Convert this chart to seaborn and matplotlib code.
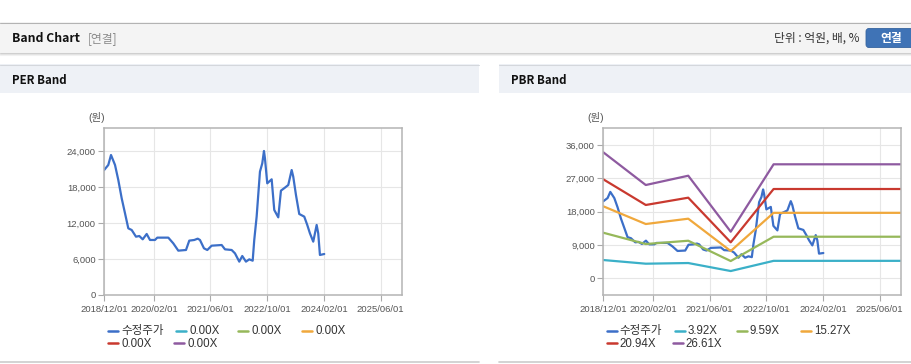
import matplotlib
matplotlib.use("Agg")
import matplotlib.pyplot as plt
import seaborn as sns
import pandas as pd
from matplotlib.patches import Rectangle, FancyBboxPatch
from matplotlib.lines import Line2D
from matplotlib.ticker import FuncFormatter
from matplotlib.transforms import Affine2D

# ---------------- data ----------------
# x = months from the left edge of the axis (first tick "2018/12/01")
tick_months = [0, 12.3, 26.3, 40.3, 54.3, 68.3]
tick_labels = ["2018/12/01", "2020/02/01", "2021/06/01", "2022/10/01", "2024/02/01", "2025/06/01"]
x_max = 73.6

price_month = [0, 1.06, 1.73, 2.72, 3.53, 4.37, 5.19, 6.0, 6.84, 7.9, 8.72, 9.56, 10.54,
               11.36, 12.59, 13.16, 15.88, 17.11, 18.35, 20.25, 21.06, 22.3, 23.14, 23.7,
               24.69, 25.51, 26.59, 29.06, 29.88, 31.53, 32.35, 33.41, 34.15, 35.06, 35.88,
               36.72, 37.11, 37.7, 38.52, 39.09, 39.51, 39.75, 40.32, 41.41, 42.05, 43.04,
               43.7, 44.69, 45.51, 46.35, 46.74, 47.41, 48.22, 49.46, 50.2, 50.86, 51.68,
               52.52, 52.91, 53.33, 54.4]
price_value = [20800, 21670, 23330, 21670, 19170, 16110, 13610, 11110, 10830, 9720, 9830,
               9280, 10170, 9170, 9170, 9560, 9560, 8610, 7390, 7500, 9060, 9170, 9390, 9170,
               7780, 7500, 8220, 8330, 7610, 7500, 6940, 5560, 6500, 5560, 5940, 5720, 9170,
               13060, 20560, 21940, 24000, 22780, 18610, 19280, 14170, 12940, 17390, 17890,
               18330, 20830, 19720, 16670, 13500, 13060, 11670, 10280, 8890, 11670, 10280,
               6670, 6830]

band_month = [0, 10.5, 21.0, 31.5, 42.1, 73.6]
band_392 = [4940, 3950, 4130, 1970, 4720, 4720]
band_959 = [12310, 9260, 10150, 4670, 11230, 11230]
band_1527 = [19440, 14660, 16100, 7370, 17680, 17680]
band_2094 = [26730, 19800, 21770, 9720, 24110, 24110]
band_2661 = [34020, 25190, 27700, 12590, 30780, 30780]

per_labels = ["수정주가", "0.00X", "0.00X", "0.00X", "0.00X", "0.00X"]
pbr_labels = ["수정주가", "3.92X", "9.59X", "15.27X", "20.94X", "26.61X"]

per_yticks = [0, 6000, 12000, 18000, 24000]
pbr_yticks = [0, 9000, 18000, 27000, 36000]

colors = ["#3c6fc8", "#3bb0c8", "#96b85a", "#f0a83c", "#c9392f", "#8e5aa0"]

# ---------------- figure ----------------
sns.set_theme(style="white")
plt.rcParams["font.family"] = ["Liberation Sans", "Noto Sans CJK KR", "DejaVu Sans"]

W, H = 912, 364
fig = plt.figure(figsize=(W / 100, H / 100), dpi=100)
fig.patch.set_facecolor("white")
T = Affine2D().scale(1 / 100, -1 / 100).translate(0, H / 100) + fig.dpi_scale_trans


def rect(x0, y0, x1, y1, color, z=1):
    fig.add_artist(Rectangle((x0, y0), x1 - x0, y1 - y0, transform=T,
                             facecolor=color, edgecolor="none", zorder=z))


def hline(x0, x1, y, color, lw=0.75, z=2):
    fig.add_artist(Line2D([x0, x1], [y, y], transform=T, color=color, lw=lw, zorder=z))


def text(x, y, s, **kw):
    fig.text(x, y, s, transform=T, **kw)


# top header bar
rect(0, 22, W, 52.5, "#f4f4f4")
hline(0, W, 22.5, "#b3b3b3")
hline(0, W, 53, "#cfcfcf")
hline(0, W, 54, "#e3e3e3")
hline(0, W, 55, "#f1f1f1")
text(12, 38.5, "Band Chart", fontsize=8.8, fontweight="bold", family=["Noto Sans CJK KR"],
     color="#111111", va="center", ha="left")
text(88, 38.5, "[연결]", fontsize=8.5, family=["Noto Sans CJK KR"], color="#8a8a8a",
     va="center", ha="left")
text(859, 38.5, "단위 : 억원, 배, %", fontsize=8.5, family=["Noto Sans CJK KR"], color="#333333",
     va="center", ha="right")
fig.add_artist(FancyBboxPatch((866, 28.5), 52, 19, boxstyle="round,pad=0,rounding_size=3",
                              transform=T, facecolor="#3f73b6", edgecolor="#35639f", lw=0.6, zorder=2))
text(891.5, 38.5, "연결", fontsize=8.5, fontweight="bold", family=["Noto Sans CJK KR"],
     color="white", va="center", ha="center", zorder=3)

# panel headers
for x0, x1, title in [(0, 479, "PER Band"), (499, 912, "PBR Band")]:
    rect(x0, 64, x1, 93, "#eef1f6")
    hline(x0, x1, 64.5, "#d4d7dc")
    hline(x0, x1, 362, "#cccccc", lw=1.2)
    text(x0 + 12, 80.5, title, fontsize=8.3, fontweight="bold", family=["Noto Sans CJK KR"],
         color="#111111", va="center", ha="left")

# ---------------- axes ----------------
ax1 = fig.add_axes([104 / W, 1 - 295 / H, 298 / W, 167 / H])
ax2 = fig.add_axes([603.3 / W, 1 - 295 / H, 297.7 / W, 167 / H])

df_price = pd.DataFrame({"month": price_month, "price": price_value})

# PER band chart
sns.lineplot(data=df_price, x="month", y="price", color=colors[0], lw=1.6, ax=ax1)

# PBR band chart
sns.lineplot(data=df_price, x="month", y="price", color=colors[0], lw=1.6, ax=ax2)
band_names = pbr_labels[1:]
band_vals = [band_392, band_959, band_1527, band_2094, band_2661]
df_band = pd.DataFrame({
    "month": band_month * len(band_names),
    "value": sum(band_vals, []),
    "band": [b for b in band_names for _ in band_month],
})
sns.lineplot(data=df_band, x="month", y="value", hue="band",
             palette=dict(zip(band_names, colors[1:])), lw=1.6, legend=False,
             sort=False, ax=ax2)

fmt = FuncFormatter(lambda v, p: f"{v:,.0f}")
for ax, yt, ylim in [(ax1, per_yticks, (0, 27830)), (ax2, pbr_yticks, (-4500, 40580))]:
    ax.set_facecolor("white")
    ax.set_xlim(0, x_max)
    ax.set_ylim(*ylim)
    ax.set_xticks(tick_months)
    ax.set_xticklabels(tick_labels)
    ax.set_yticks(yt)
    ax.yaxis.set_major_formatter(fmt)
    ax.set_xlabel("")
    ax.set_ylabel("")
    ax.grid(True, color="#e6e6e6", lw=0.8)
    ax.set_axisbelow(True)
    for s in ax.spines.values():
        s.set_color("#b4b4b4")
        s.set_linewidth(1.1)
    ax.tick_params(axis="both", which="major", direction="out", length=4, width=0.8,
                   color="#aaaaaa", labelcolor="#555555", labelsize=6.8, pad=2)
    ax.tick_params(axis="x", pad=3)
    ax.tick_params(bottom=True, left=True)
    ax.text(-0.054, 1.06, "(원)", transform=ax.transAxes, fontsize=7.5, color="#555555",
            ha="left", va="center")

# ---------------- legends ----------------
def legend(x0, labels):
    offs = [(0, 330.7), (68, 330.7), (130, 330.7), (194, 330.7), (0, 343.3), (66, 343.3)]
    for i, (dx, y) in enumerate(offs):
        x = x0 + dx
        fig.add_artist(Line2D([x, x + 10], [y, y], transform=T, color=colors[i], lw=1.8))
        text(x + 13, y + 0.3, labels[i], fontsize=8.3, color="#333333", va="center", ha="left")


legend(108.3, per_labels)
legend(606.7, pbr_labels)

fig.savefig("out.png", dpi=100, facecolor="white")
